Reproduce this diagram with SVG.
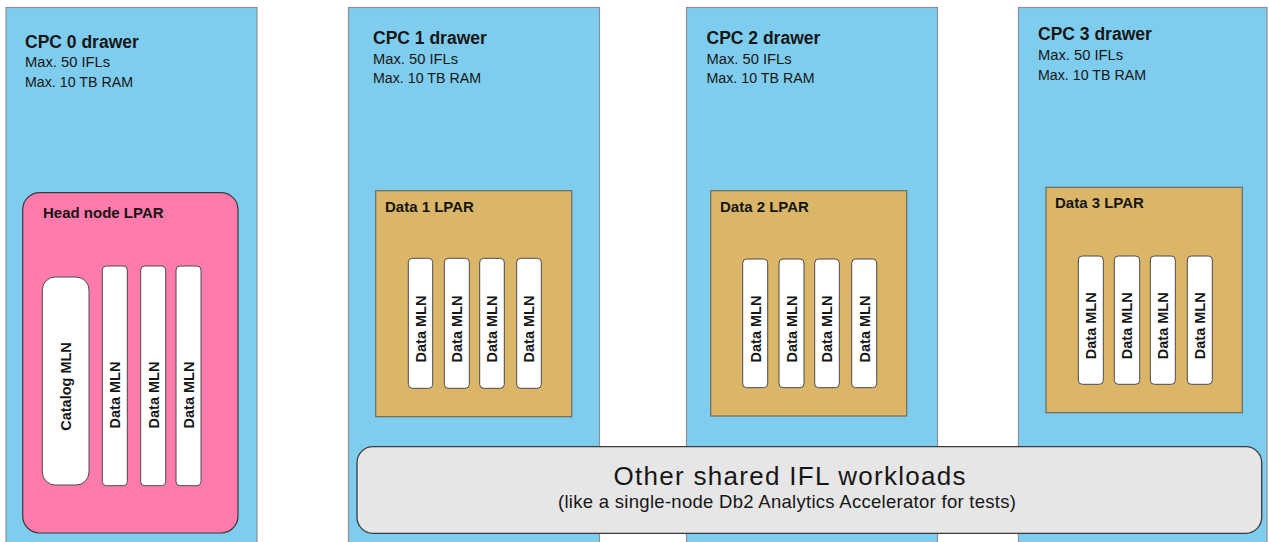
<svg xmlns="http://www.w3.org/2000/svg" width="1269" height="542" viewBox="0 0 1269 542">
  <style>
    .drawer { fill: #7fcdee; stroke: #8a8f94; stroke-width: 1.2; }
    .head { fill: #ff7bac; stroke: #3a3a3a; stroke-width: 1.2; }
    .lpar { fill: #dbb669; stroke: #6e6a60; stroke-width: 1.2; }
    .mln { fill: #ffffff; stroke: #4a4a4a; stroke-width: 1; }
    .shared { fill: #e6e6e6; stroke: #3a3a3a; stroke-width: 1.3; }
    text { font-family: "Liberation Sans", Arial, sans-serif; fill: #161616; }
    .title { font-size: 17.5px; font-weight: bold; }
    .spec { font-size: 15.5px; }
    .lbl { font-size: 15px; font-weight: bold; }
    .vlbl { font-size: 14.5px; font-weight: bold; text-anchor: middle; }
    .big { font-size: 26px; text-anchor: middle; }
    .sub { font-size: 18.5px; text-anchor: middle; }
  </style>

  <!-- CPC drawers -->
  <g id="cpc0">
    <rect class="drawer" x="6" y="7.5" width="251" height="545"/>
    <text class="title" x="25" y="48">CPC 0 drawer</text>
    <text class="spec" x="25" y="67" textLength="85" lengthAdjust="spacingAndGlyphs">Max. 50 IFLs</text>
    <text class="spec" x="25" y="87" textLength="108" lengthAdjust="spacingAndGlyphs">Max. 10 TB RAM</text>
  </g>
  <g id="cpc1">
    <rect class="drawer" x="348.5" y="7.5" width="251" height="545"/>
    <text class="title" x="373" y="43.5">CPC 1 drawer</text>
    <text class="spec" x="373" y="64" textLength="85" lengthAdjust="spacingAndGlyphs">Max. 50 IFLs</text>
    <text class="spec" x="373" y="83" textLength="108" lengthAdjust="spacingAndGlyphs">Max. 10 TB RAM</text>
  </g>
  <g id="cpc2">
    <rect class="drawer" x="686.5" y="7.5" width="251" height="545"/>
    <text class="title" x="706.5" y="43.5">CPC 2 drawer</text>
    <text class="spec" x="706.5" y="64" textLength="85" lengthAdjust="spacingAndGlyphs">Max. 50 IFLs</text>
    <text class="spec" x="706.5" y="83" textLength="108" lengthAdjust="spacingAndGlyphs">Max. 10 TB RAM</text>
  </g>
  <g id="cpc3">
    <rect class="drawer" x="1018.5" y="7.5" width="248.5" height="545"/>
    <text class="title" x="1038" y="40">CPC 3 drawer</text>
    <text class="spec" x="1038" y="60" textLength="85" lengthAdjust="spacingAndGlyphs">Max. 50 IFLs</text>
    <text class="spec" x="1038" y="80" textLength="108" lengthAdjust="spacingAndGlyphs">Max. 10 TB RAM</text>
  </g>

  <!-- Head node LPAR in CPC 0 -->
  <g id="head-lpar">
    <rect class="head" x="22.7" y="192.7" width="215.3" height="340.3" rx="17"/>
    <text class="lbl" x="43" y="218">Head node LPAR</text>
    <rect class="mln" x="42.3" y="277" width="46.7" height="208" rx="13"/>
    <text class="vlbl" transform="translate(66,386.5) rotate(-90)" dy="0.36em">Catalog MLN</text>
    <rect class="mln" x="102.3" y="266" width="25" height="219.7" rx="4"/>
    <text class="vlbl" transform="translate(115,395) rotate(-90)" dy="0.36em">Data MLN</text>
    <rect class="mln" x="140.7" y="266" width="25" height="219.7" rx="4"/>
    <text class="vlbl" transform="translate(153.4,395) rotate(-90)" dy="0.36em">Data MLN</text>
    <rect class="mln" x="176" y="266" width="25" height="219.7" rx="4"/>
    <text class="vlbl" transform="translate(188.7,395) rotate(-90)" dy="0.36em">Data MLN</text>
  </g>

  <!-- Data 1 LPAR in CPC 1 -->
  <g id="data1-lpar">
    <rect class="lpar" x="375.7" y="190.7" width="196" height="226"/>
    <text class="lbl" x="385" y="211.7">Data 1 LPAR</text>
    <rect class="mln" x="408.3" y="258.3" width="24.4" height="130" rx="4"/>
    <text class="vlbl" transform="translate(420.7,329) rotate(-90)" dy="0.36em">Data MLN</text>
    <rect class="mln" x="444.3" y="258.3" width="25" height="130" rx="4"/>
    <text class="vlbl" transform="translate(457,329) rotate(-90)" dy="0.36em">Data MLN</text>
    <rect class="mln" x="479.7" y="258.3" width="24.6" height="130" rx="4"/>
    <text class="vlbl" transform="translate(492.2,329) rotate(-90)" dy="0.36em">Data MLN</text>
    <rect class="mln" x="516.7" y="258.3" width="24.6" height="130" rx="4"/>
    <text class="vlbl" transform="translate(529.2,329) rotate(-90)" dy="0.36em">Data MLN</text>
  </g>

  <!-- Data 2 LPAR in CPC 2 -->
  <g id="data2-lpar">
    <rect class="lpar" x="710.7" y="190.7" width="196" height="225.3"/>
    <text class="lbl" x="720" y="211.7">Data 2 LPAR</text>
    <rect class="mln" x="742.7" y="259" width="25" height="128.7" rx="4"/>
    <text class="vlbl" transform="translate(755.4,329) rotate(-90)" dy="0.36em">Data MLN</text>
    <rect class="mln" x="779" y="259" width="25" height="128.7" rx="4"/>
    <text class="vlbl" transform="translate(791.7,329) rotate(-90)" dy="0.36em">Data MLN</text>
    <rect class="mln" x="814.7" y="259" width="24.6" height="128.7" rx="4"/>
    <text class="vlbl" transform="translate(827.2,329) rotate(-90)" dy="0.36em">Data MLN</text>
    <rect class="mln" x="851.7" y="259" width="25" height="128.7" rx="4"/>
    <text class="vlbl" transform="translate(864.4,329) rotate(-90)" dy="0.36em">Data MLN</text>
  </g>

  <!-- Data 3 LPAR in CPC 3 -->
  <g id="data3-lpar">
    <rect class="lpar" x="1046" y="187.3" width="196.3" height="225.4"/>
    <text class="lbl" x="1055" y="208.3">Data 3 LPAR</text>
    <rect class="mln" x="1078.3" y="256" width="25" height="128.3" rx="4"/>
    <text class="vlbl" transform="translate(1091,325.8) rotate(-90)" dy="0.36em">Data MLN</text>
    <rect class="mln" x="1114.3" y="256" width="25.4" height="128.3" rx="4"/>
    <text class="vlbl" transform="translate(1127.2,325.8) rotate(-90)" dy="0.36em">Data MLN</text>
    <rect class="mln" x="1150.3" y="256" width="25" height="128.3" rx="4"/>
    <text class="vlbl" transform="translate(1163,325.8) rotate(-90)" dy="0.36em">Data MLN</text>
    <rect class="mln" x="1187.3" y="256" width="25" height="128.3" rx="4"/>
    <text class="vlbl" transform="translate(1200,325.8) rotate(-90)" dy="0.36em">Data MLN</text>
  </g>

  <!-- Shared workloads spanning CPC 1 to CPC 3 -->
  <g id="shared-workloads">
    <rect class="shared" x="357" y="446.7" width="904.7" height="86.6" rx="16"/>
    <text class="big" x="789.5" y="485" textLength="352">Other shared IFL workloads</text>
    <text class="sub" x="787" y="508" textLength="458">(like a single-node Db2 Analytics Accelerator for tests)</text>
  </g>

  <!-- No connectors in this diagram -->
  <g id="connectors"/>
</svg>
